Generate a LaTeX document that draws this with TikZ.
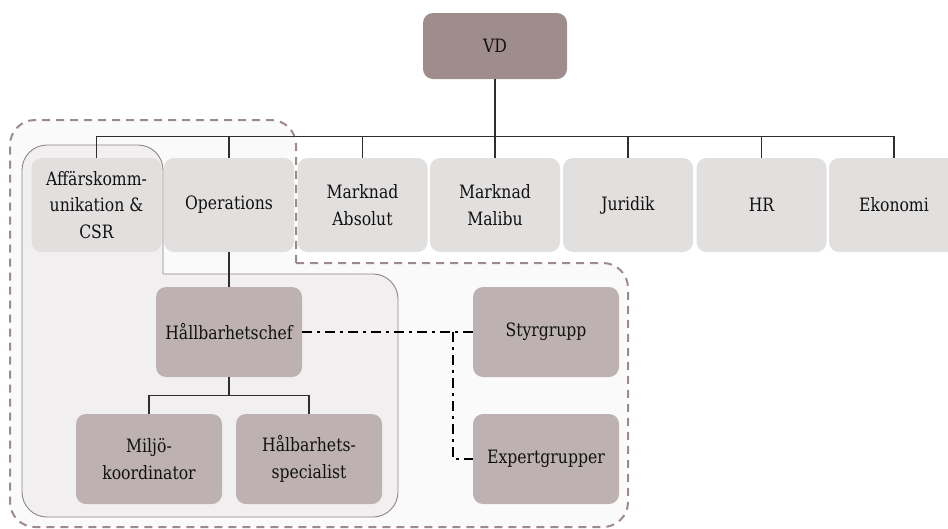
\documentclass[tikz,border=0pt]{standalone}
\usepackage{fontspec}
\setmainfont[FakeStretch=0.85]{DejaVu Serif}
\begin{document}
\definecolor{vdfill}{HTML}{9F8D8D}
\definecolor{rowfill}{HTML}{E2DFDF}
\definecolor{subfill}{HTML}{BDB1B1}
\definecolor{zonefill}{HTML}{FAFAFA}
\definecolor{groupfill}{HTML}{F1EFF0}
\definecolor{dashcol}{HTML}{9D8B8B}
\definecolor{groupline}{HTML}{8F8585}
\definecolor{linkcol}{HTML}{2E2E2E}
\definecolor{txt}{HTML}{111111}
\begin{tikzpicture}[x=1pt,y=-1pt,
  box/.style={rectangle, rounded corners=10pt, align=center, text=txt,
    font=\fontsize{18.4}{26.5}\selectfont, inner sep=0pt},
  topbox/.style={box, fill=vdfill, minimum width=144pt, minimum height=66pt},
  rowbox/.style={box, fill=rowfill, minimum width=130pt, minimum height=94pt},
  subbox/.style={box, fill=subfill, minimum width=146pt, minimum height=90pt},
  link/.style={draw=linkcol, line width=1.4pt},
  zone/.style={draw=dashcol, line width=2pt, dash pattern=on 8pt off 6pt},
  group/.style={draw=groupline, line width=0.9pt},
  liaison/.style={draw=black, line width=2.4pt,
    dash pattern=on 10pt off 5pt on 3pt off 5pt}]
\useasboundingbox (0,0) rectangle (948,528);
\begin{scope}
\clip (0,0) rectangle (948,528);

% outlines start and end at their one inner corner, which stays sharp
% dashed zone around the sustainability organisation
\path[fill=zonefill, rounded corners=25pt] (296,263) -- (628,263) -- (628,527)
  -- (10,527) -- (10,120) -- (296,120) -- (296,263);
% solid group region
\path[fill=groupfill, group, rounded corners=25pt] (163,274) -- (398,274)
  -- (398,517) -- (22,517) -- (22,145) -- (163,145) -- (163,274);
\path[zone, rounded corners=25pt] (296,263) -- (628,263) -- (628,527)
  -- (10,527) -- (10,120) -- (296,120) -- (296,263);

% nodes
\node[topbox] (vd) at (495,46) {VD};
\node[rowbox] (aff) at (96.5,205) {Affärskomm-\\unikation \&\\CSR};
\node[rowbox] (ops) at (229,205) {Operations};
\node[rowbox] (mabs) at (362.5,205) {Marknad\\Absolut};
\node[rowbox] (mmal) at (495,205) {Marknad\\Malibu};
\node[rowbox] (jur) at (628,205) {Juridik};
\node[rowbox] (hr) at (761.5,205) {HR};
\node[rowbox] (eko) at (894,205) {Ekonomi};

\node[subbox] (chef) at (229,332) {Hållbarhetschef};
\node[subbox] (miljo) at (149,459) {Miljö-\\koordinator};
\node[subbox] (spec) at (309,459) {Hålbarhets-\\specialist};
\node[subbox] (styr) at (546,332) {Styrgrupp};
\node[subbox] (expert) at (546,459) {Expertgrupper};

% reporting lines
\foreach \n in {aff,ops,mabs,mmal,jur,hr,eko}
  \draw[link] (vd.south) -- ++(0,57) -| (\n.north);
\draw[link] (ops.south) -- (chef.north);
\draw[link] (chef.south) -- ++(0,18) -| (miljo.north);
\draw[link] (chef.south) -- ++(0,18) -| (spec.north);

% liaison to the steering and expert groups
\coordinate (split) at (453,332);
\draw[liaison] (chef.east) -- (styr.west);
\draw[liaison, line width=2pt] (split) |- (expert.west);
\end{scope}
\end{tikzpicture}
\end{document}
